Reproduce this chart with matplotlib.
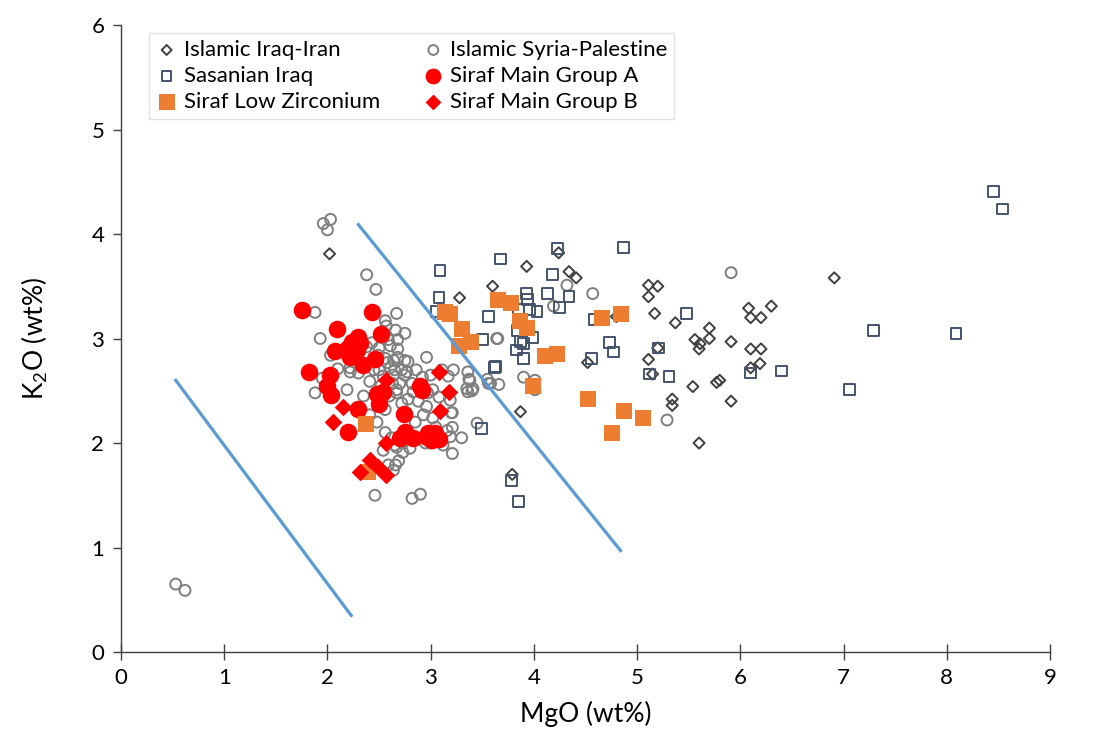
import matplotlib.pyplot as plt
import numpy as np

plt.rcParams['font.family'] = ['Lato', 'DejaVu Sans']
plt.rcParams['mathtext.default'] = 'regular'

# Islamic Iraq-Iran (MgO, K2O)
iraq_iran_mgo = [2.02, 3.28, 3.60, 3.79, 3.87, 3.93, 4.24, 4.34, 4.41, 4.52, 4.80, 5.11, 5.20, 5.11,
                 5.17, 5.37, 5.70, 5.70, 5.56, 5.61, 5.60, 5.91, 6.08, 6.10, 6.20, 6.30, 6.10, 6.20,
                 6.19, 6.10, 5.20, 5.11, 5.15, 5.54, 5.77, 5.80, 5.34, 5.34, 5.91, 5.60, 6.91]
iraq_iran_k2o = [3.81, 3.39, 3.50, 1.70, 2.30, 3.69, 3.82, 3.64, 3.58, 2.77, 3.21, 3.51, 3.50, 3.40,
                 3.24, 3.15, 3.10, 3.00, 2.99, 2.95, 2.90, 2.97, 3.29, 3.20, 3.20, 3.31, 2.90, 2.90,
                 2.76, 2.72, 2.91, 2.80, 2.66, 2.54, 2.58, 2.60, 2.42, 2.36, 2.40, 2.00, 3.58]

# Islamic Syria-Palestine
syria_mgo = [0.53, 0.62, 1.96, 2.03, 2.00, 2.38, 2.47, 1.88, 1.93, 2.03, 1.95, 1.88,
             2.67, 2.56, 2.57, 2.66, 2.75, 2.68, 2.43, 2.38, 2.50, 2.61, 2.68, 2.68, 2.56, 2.64,
             2.75, 2.49, 2.10, 2.22, 2.30, 2.41, 2.50, 2.54, 2.61, 2.64, 2.72, 2.75, 2.70, 2.67,
             2.19, 2.59, 2.96, 2.78, 2.58, 2.65, 2.77, 2.86, 2.92, 3.00, 3.17, 3.22, 3.11, 3.36,
             3.37, 2.82, 3.02, 3.35, 3.41, 3.55, 3.58, 2.63, 3.64, 3.38, 3.40,
             3.90, 4.01, 4.01, 3.56, 3.66, 4.32, 4.57, 4.19, 3.65, 5.29, 5.91,
             3.45, 3.21, 3.21, 3.19, 3.30, 3.21,
             2.67, 2.83, 2.97, 3.08, 3.19, 3.36, 2.72, 2.96, 2.93, 3.02, 3.20, 3.16, 2.56, 2.65,
             2.73, 2.54, 2.69, 2.66, 2.64, 3.00, 3.12, 2.82, 2.90, 2.46, 2.59, 2.73, 2.67, 2.41,
             2.56, 2.22, 2.45, 2.52, 2.60, 2.78, 2.88, 2.85, 3.05, 2.95, 2.80, 2.62, 2.48, 2.35]
syria_k2o = [0.65, 0.59, 4.10, 4.14, 4.04, 3.61, 3.47, 3.25, 3.00, 2.84, 2.62, 2.48,
             3.24, 3.17, 3.12, 3.08, 3.05, 2.99, 2.96, 2.92, 2.91, 2.93, 2.90, 2.82, 2.81, 2.79,
             2.79, 2.84, 2.71, 2.68, 2.67, 2.59, 2.70, 2.64, 2.72, 2.65, 2.70, 2.65, 2.57, 2.51,
             2.51, 2.99, 2.82, 2.78, 2.77, 2.70, 2.68, 2.70, 2.63, 2.65, 2.64, 2.70, 2.70, 2.68,
             2.61, 2.57, 2.51, 2.52, 2.52, 2.61, 2.57, 2.57, 3.00, 2.60, 2.50,
             2.63, 2.60, 2.51, 2.57, 2.56, 3.51, 3.43, 3.31, 3.00, 2.22, 3.63,
             2.19, 2.29, 2.15, 2.06, 2.05, 1.90,
             2.48, 2.49, 2.48, 2.44, 2.41, 2.49, 2.38, 2.35, 2.27, 2.24, 2.29, 2.12, 2.10, 1.98,
             1.91, 1.93, 1.83, 1.79, 1.74, 2.00, 1.98, 1.47, 1.51, 1.50, 1.79, 2.00, 1.96, 2.27,
             2.32, 2.72, 2.70, 2.55, 2.45, 2.42, 2.40, 2.20, 2.15, 2.00, 1.95, 2.05, 2.20, 2.45]

# Sasanian Iraq
sasanian_mgo = [3.09, 3.08, 3.06, 3.56, 3.50, 3.62, 3.49, 3.68, 3.78, 3.85, 4.23, 4.18, 3.93, 4.13,
                4.34, 3.94, 3.85, 3.96, 4.03, 4.25, 3.84, 3.99, 3.87, 3.90, 3.83, 3.90, 3.63, 4.59,
                4.73, 4.77, 4.56, 4.87, 5.48, 5.21, 5.12, 5.31, 6.10, 6.40, 7.06, 7.29, 8.09, 8.45, 8.54]
sasanian_k2o = [3.65, 3.39, 3.26, 3.21, 2.99, 2.72, 2.14, 3.76, 1.64, 1.44, 3.86, 3.61, 3.43, 3.43,
                3.40, 3.37, 3.28, 3.28, 3.26, 3.30, 3.08, 3.01, 2.97, 2.95, 2.89, 2.81, 2.73, 3.18,
                2.96, 2.87, 2.81, 3.87, 3.24, 2.91, 2.66, 2.64, 2.67, 2.69, 2.51, 3.08, 3.05, 4.41, 4.24]

# Siraf Main Group A
group_a_mgo = [1.75, 2.43, 2.09, 2.52, 2.30, 2.24, 2.32, 2.20, 2.29, 2.25, 2.07, 2.22, 2.34, 2.46,
               1.82, 2.02, 2.00, 2.03, 2.48, 2.54, 2.50, 2.30, 2.20, 2.74, 2.90, 2.92, 2.75, 2.83,
               2.70, 2.97, 3.04, 3.08, 3.01, 2.96]
group_a_k2o = [3.27, 3.25, 3.09, 3.04, 3.01, 2.97, 2.96, 2.91, 2.89, 2.84, 2.88, 2.82, 2.75, 2.80,
               2.68, 2.65, 2.55, 2.46, 2.47, 2.49, 2.37, 2.33, 2.11, 2.28, 2.55, 2.51, 2.11, 2.05,
               2.05, 2.10, 2.10, 2.04, 2.03, 2.06]

# Siraf Low Zirconium
low_zr_mgo = [2.37, 2.39, 3.14, 3.19, 3.30, 3.27, 3.39, 3.65, 3.78, 3.87, 3.93, 3.99, 4.11, 4.22,
              4.52, 4.66, 4.84, 4.87, 5.06, 4.76]
low_zr_k2o = [2.18, 1.72, 3.25, 3.23, 3.09, 2.93, 2.97, 3.37, 3.34, 3.17, 3.10, 2.55, 2.83, 2.85,
              2.42, 3.20, 3.23, 2.31, 2.24, 2.10]

# Siraf Main Group B
group_b_mgo = [2.57, 3.08, 3.18, 3.09, 2.15, 2.05, 2.57, 2.41, 2.32, 2.49, 2.57]
group_b_k2o = [2.60, 2.68, 2.49, 2.31, 2.34, 2.20, 2.00, 1.84, 1.72, 1.77, 1.69]

# dividing lines
line1_x = [0.53, 2.23]
line1_y = [2.60, 0.35]
line2_x = [2.30, 4.84]
line2_y = [4.09, 0.97]

fig = plt.figure(figsize=(11.04, 7.29), dpi=100)
ax = fig.add_axes([0.1096, 0.1056, 0.8415, 0.8601])

h1 = ax.scatter(iraq_iran_mgo, iraq_iran_k2o, marker='D', s=32, facecolors='none',
                edgecolors='#404040', linewidths=1.4, label='Islamic Iraq-Iran', zorder=2)
h2 = ax.scatter(syria_mgo, syria_k2o, marker='o', s=62, facecolors='none',
                edgecolors='#7F7F7F', linewidths=1.4, label='Islamic Syria-Palestine', zorder=2)
h3 = ax.scatter(sasanian_mgo, sasanian_k2o, marker='s', s=60, facecolors='none',
                edgecolors='#44546A', linewidths=1.4, label='Sasanian Iraq', zorder=2)
h4 = ax.scatter(group_a_mgo, group_a_k2o, marker='o', s=160, color='#FF0000',
                linewidths=0, label='Siraf Main Group A', zorder=3)
h5 = ax.scatter(low_zr_mgo, low_zr_k2o, marker='s', s=145, color='#ED7D31',
                linewidths=0, label='Siraf Low Zirconium', zorder=3)
h6 = ax.scatter(group_b_mgo, group_b_k2o, marker='D', s=80, color='#FF0000',
                linewidths=0, label='Siraf Main Group B', zorder=3)

ax.plot(line1_x, line1_y, color='#5B9BD5', lw=2.3, zorder=4)
ax.plot(line2_x, line2_y, color='#5B9BD5', lw=2.3, zorder=4)

ax.set_xlim(0, 9)
ax.set_ylim(0, 6)
ax.set_xticks(range(0, 10))
ax.set_yticks(range(0, 7))
ax.spines['top'].set_visible(False)
ax.spines['right'].set_visible(False)
for sp in ['left', 'bottom']:
    ax.spines[sp].set_color('#404040')
    ax.spines[sp].set_linewidth(1.0)
ax.tick_params(axis='x', direction='inout', length=11, width=1, color='#404040',
               labelsize=16, pad=6)
ax.tick_params(axis='y', direction='out', length=6, width=1, color='#404040',
               labelsize=16, pad=6)

ax.set_xlabel('MgO (wt%)', fontsize=19, labelpad=9)
ax.set_ylabel('K$_2$O (wt%)', fontsize=19, labelpad=30)

leg = ax.legend(handles=[h1, h3, h5, h2, h4, h6], ncol=2, loc='upper left',
                bbox_to_anchor=(0.03, 0.987), borderaxespad=0, fontsize=16, frameon=True,
                fancybox=False, edgecolor='#D9D9D9', handlelength=1.0, handletextpad=0.27,
                columnspacing=1.9, labelspacing=0.28, borderpad=0.3, scatterpoints=1,
                markerscale=0.9)
leg.get_frame().set_linewidth(1.0)

fig.savefig('out.png', dpi=100)
